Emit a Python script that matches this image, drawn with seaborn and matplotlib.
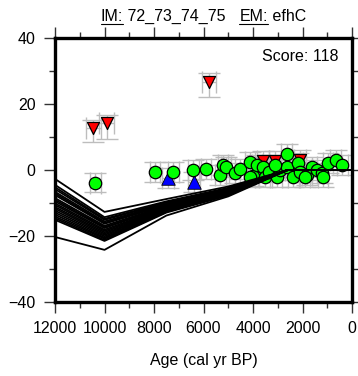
import numpy as np
import pandas as pd
import matplotlib
matplotlib.use("Agg")
import matplotlib.pyplot as plt
from matplotlib.ticker import MultipleLocator
from matplotlib.lines import Line2D
import seaborn as sns

green_age = [10380, 7960, 7230, 6420, 5900, 5330, 5210, 5090, 4730, 4520,
             4120, 4000, 3840, 3600, 3520, 3350, 3030, 2910, 2630, 2630,
             2380, 2180, 2100, 1820, 1620, 1410, 1210, 970, 650, 400,
             1900, 1170, 4120, 3100]
green_val = [-3.8, -0.6, -0.6, 0.0, 0.3, -1.5, 1.5, 0.9, -0.9, 0.3,
             2.4, -1.8, 1.5, 0.9, -2.1, -0.6, -2.1, 0.0, 4.8, 0.9,
             -2.1, 2.1, -0.6, -1.5, 0.9, 0.0, -0.9, 2.1, 3.0, 1.5,
             -2.1, -2.1, -2.1, 1.6]
green_age_err = 220
green_val_err = 3.0

red_age = [10460, 9910, 5780, 3600, 3110, 2100]
red_val = [12.7, 14.1, 26.6, 2.7, 2.7, 3.1]
red_err_lo = [4.3, 4.8, 4.5, 3.0, 3.0, 3.0]
red_err_hi = [2.4, 2.5, 2.8, 3.0, 3.0, 3.0]
red_age_err = [300, 300, 300, 250, 250, 250]

blue_age = [7430, 6380]
blue_val = [-2.4, -3.6]
blue_age_err = 250
blue_val_err = 3.0

# model curves
model_age = [12000, 10000, 7500, 5000, 2600, 0]
model_runs = [
    [-2.7, -12.7, -8.8, -5.0, 0.0, 0.0],
    [-4.5, -14.3, -9.5, -5.4, 0.0, 0.0],
    [-5.2, -14.8, -9.8, -5.6, 0.0, 0.0],
    [-5.8, -15.1, -10.0, -5.7, 0.0, 0.0],
    [-6.6, -15.6, -10.2, -5.9, 0.0, 0.0],
    [-7.1, -16.0, -10.4, -6.0, 0.0, 0.0],
    [-7.6, -16.3, -10.6, -6.1, 0.0, 0.0],
    [-8.5, -16.9, -10.8, -6.3, 0.0, 0.0],
    [-9.0, -17.3, -11.0, -6.4, 0.0, 0.0],
    [-9.5, -17.6, -11.1, -6.5, 0.0, 0.0],
    [-10.1, -18.1, -11.3, -6.6, 0.0, 0.0],
    [-10.6, -18.5, -11.5, -6.8, 0.0, 0.0],
    [-11.2, -18.9, -11.7, -6.9, 0.0, 0.0],
    [-11.7, -19.3, -11.9, -7.0, 0.0, 0.0],
    [-12.3, -19.7, -12.0, -7.1, 0.0, 0.0],
    [-12.9, -20.1, -12.2, -7.3, 0.0, 0.0],
    [-13.5, -20.5, -12.4, -7.4, 0.0, 0.0],
    [-14.1, -20.8, -12.5, -7.5, 0.0, 0.0],
    [-14.6, -21.2, -12.7, -7.6, 0.0, 0.0],
    [-15.1, -21.5, -12.9, -7.7, 0.0, 0.0],
    [-20.3, -24.2, -13.8, -8.0, 0.0, 0.0],
]

x_ticks = [12000, 10000, 8000, 6000, 4000, 2000, 0]
y_ticks = [-40, -20, 0, 20, 40]
score = 118
title_parts = [("IM:", True), (" 72_73_74_75   ", False), ("EM:", True), (" efhC", False)]

sns.set_theme(style="ticks")
plt.rcParams['font.family'] = ['Liberation Sans', 'DejaVu Sans']

W, H = 358, 376
fig = plt.figure(figsize=(W / 100, H / 100), dpi=100)
ax = fig.add_axes([55 / W, 1 - 302 / H, 297 / W, 264 / H])

ebar_kw = dict(fmt='none', ecolor='#bdbdbd', elinewidth=1.0, capsize=8, capthick=1.0, zorder=1)

ax.errorbar(red_age, red_val, yerr=[red_err_lo, red_err_hi], xerr=red_age_err, **ebar_kw)
ax.errorbar(blue_age, blue_val, yerr=blue_val_err, xerr=blue_age_err, **ebar_kw)
ax.errorbar(green_age, green_val, yerr=green_val_err, xerr=green_age_err, **ebar_kw)

sns.scatterplot(x=red_age, y=red_val, marker='v', s=75, color='#ff0000',
                edgecolor='black', linewidth=0.9, ax=ax, zorder=2)
sns.scatterplot(x=blue_age, y=blue_val, marker='^', s=95, color='#0000ff',
                edgecolor='black', linewidth=0.6, ax=ax, zorder=3)
sns.scatterplot(x=green_age, y=green_val, marker='o', s=80, color='#00ff00',
                edgecolor='black', linewidth=0.9, ax=ax, zorder=4)

rows = []
for i, run in enumerate(model_runs):
    for a, v in zip(model_age, run):
        rows.append({'age': a, 'val': v, 'run': i})
lines = pd.DataFrame(rows)
sns.lineplot(data=lines, x='age', y='val', units='run', estimator=None, sort=False,
             color='black', lw=1.3, legend=False, ax=ax, zorder=6)

ax.set_xlim(12000, 0)
ax.set_ylim(-40, 40)
ax.set_xticks(x_ticks)
ax.set_xticklabels([str(t) for t in x_ticks])
ax.set_yticks(y_ticks)
ax.xaxis.set_minor_locator(MultipleLocator(1000))
ax.yaxis.set_minor_locator(MultipleLocator(10))
ax.tick_params(which='both', direction='out', top=True, right=True,
               labeltop=False, labelright=False, color='#333333', width=1.0,
               labelsize=11.5, labelcolor='black')
ax.tick_params(which='major', length=8, pad=6)
ax.tick_params(which='minor', length=4)
for sp in ax.spines.values():
    sp.set_visible(True)
    sp.set_linewidth(2.4)
    sp.set_color('black')

ax.set_xlabel('Age (cal yr BP)', fontsize=11.5, labelpad=12, color='black')
ax.set_ylabel('')

ax.text(0.955, 0.93, f'Score: {score}', transform=ax.transAxes, ha='right', va='center',
        fontsize=11.5, color='black')

# title with underlined "IM:" / "EM:" pieces, laid out by hand
renderer = fig.canvas.get_renderer()
texts = [fig.text(0, 0, s, fontsize=11.5, color='black', va='baseline') for s, _ in title_parts]
widths = [t.get_window_extent(renderer).width for t in texts]
x0 = 203.5 - sum(widths) / 2
base_y = H - 21
for t, w, (s, ul) in zip(texts, widths, title_parts):
    t.set_position((x0 / W, base_y / H))
    if ul:
        fig.add_artist(Line2D([x0 / W, (x0 + w) / W], [(base_y - 2.5) / H] * 2,
                              color='black', lw=0.8))
    x0 += w

fig.savefig('out.png', dpi=100)
